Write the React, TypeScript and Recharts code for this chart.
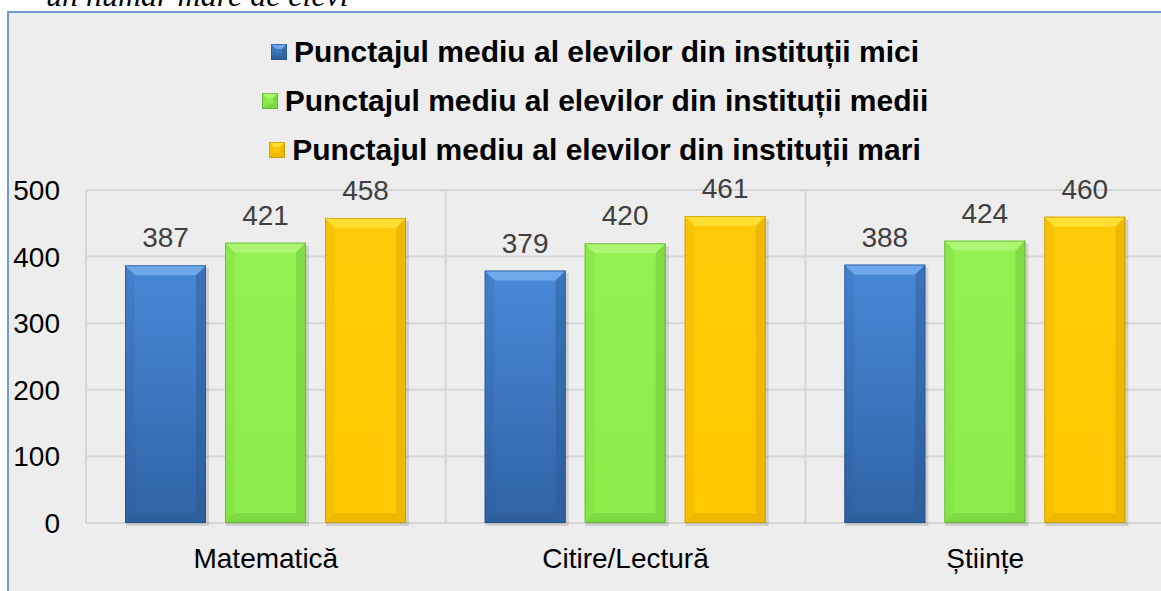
import React from 'react';
import { BarChart, Bar, XAxis, YAxis, CartesianGrid, Legend, LabelList } from 'recharts';

const categories = ['Matematică', 'Citire/Lectură', 'Științe'];
const smallSchools = [387, 379, 388];
const mediumSchools = [421, 420, 424];
const largeSchools = [458, 461, 460];
const yTicks = [0, 100, 200, 300, 400, 500];

const series = [
  {
    key: 'mici',
    name: 'Punctajul mediu al elevilor din instituții mici',
    values: smallSchools,
    pal: { top: '#4a89d9', bottom: '#2f63a5', light: '#78b0f0', dark: '#2a5892', edge: '#244d82' },
  },
  {
    key: 'medii',
    name: 'Punctajul mediu al elevilor din instituții medii',
    values: mediumSchools,
    pal: { top: '#93f152', bottom: '#8cec4a', light: '#b3f77c', dark: '#6cc238', edge: '#5c9f30' },
  },
  {
    key: 'mari',
    name: 'Punctajul mediu al elevilor din instituții mari',
    values: largeSchools,
    pal: { top: '#ffcb08', bottom: '#ffc800', light: '#ffe43c', dark: '#d9a300', edge: '#b88c00' },
  },
];

const chartData = categories.map((category, i) => {
  const row: Record<string, string | number> = { category };
  series.forEach((s) => {
    row[s.key] = s.values[i];
  });
  return row;
});

const FONT = '"Liberation Sans", Arial, sans-serif';

type Pal = { top: string; bottom: string; light: string; dark: string; edge: string };

// bevelled "3D" bar like the office chart style
const bevel = (x: number, y: number, w: number, h: number, pal: Pal, id: string, b: number, shadow = true) => {
  const bb = Math.min(b, w / 2, h / 2);
  return (
    <g>
      <defs>
        <linearGradient id={id} x1="0" y1="0" x2="0" y2="1">
          <stop offset="0%" stopColor={pal.top} />
          <stop offset="100%" stopColor={pal.bottom} />
        </linearGradient>
      </defs>
      {shadow && <rect x={x + 1} y={y + 3} width={w + 2} height={h} fill="rgba(0,0,0,0.12)" />}
      <rect x={x} y={y} width={w} height={h} fill={`url(#${id})`} />
      <polygon
        points={`${x},${y} ${x + w},${y} ${x + w - bb},${y + bb} ${x + bb},${y + bb}`}
        fill={pal.light}
        opacity={0.8}
      />
      <polygon
        points={`${x + w},${y} ${x + w},${y + h} ${x + w - bb},${y + h - bb} ${x + w - bb},${y + bb}`}
        fill={pal.dark}
        opacity={0.45}
      />
      <polygon
        points={`${x},${y + h} ${x + w},${y + h} ${x + w - bb},${y + h - bb} ${x + bb},${y + h - bb}`}
        fill={pal.dark}
        opacity={0.45}
      />
      <polygon
        points={`${x},${y} ${x + bb},${y + bb} ${x + bb},${y + h - bb} ${x},${y + h}`}
        fill={pal.dark}
        opacity={0.18}
      />
      <rect x={x + 0.5} y={y + 0.5} width={w - 1} height={h - 1} fill="none" stroke={pal.edge} strokeWidth={1} opacity={0.6} />
    </g>
  );
};

const makeShape = (pal: Pal, key: string) => (props: any) => {
  const { x, y, width, height, index } = props;
  if (!width || !height) return <g />;
  return bevel(x, y, width, height, pal, `g-${key}-${index}`, 10);
};

const LegendContent = () => (
  <div style={{ height: 160, paddingLeft: 25, boxSizing: 'border-box', position: 'relative', top: -3 }}>
    {series.map((s) => (
      <div
        key={s.key}
        style={{
          height: 49,
          display: 'flex',
          alignItems: 'center',
          justifyContent: 'center',
          fontFamily: FONT,
          fontWeight: 'bold',
          fontSize: 30,
          color: '#000',
        }}
      >
        <svg width={16} height={16} style={{ marginRight: 7 }}>
          {bevel(0, 0, 16, 16, s.pal, `lg-${s.key}`, 5, false)}
        </svg>
        <span>{s.name}</span>
      </div>
    ))}
  </div>
);

export default function App() {
  return (
    <div style={{ position: 'absolute', left: 0, top: 0, width: 1161, height: 591, overflow: 'hidden', background: '#fff' }}>
      <svg width={1161} height={12} style={{ position: 'absolute', left: 0, top: 0 }}>
        <text x={46} y={6} fontFamily='"Liberation Serif", "Times New Roman", serif' fontStyle="italic" fontSize={32} fill="#000">
          un număr mare de elevi
        </text>
      </svg>
      <div
        style={{
          position: 'absolute',
          left: 7,
          top: 11,
          width: 1160,
          height: 590,
          background: '#ededed',
          borderTop: '2px solid #6f9bd2',
          borderLeft: '2px solid #6f9bd2',
          boxSizing: 'border-box',
        }}
      />
      <div style={{ position: 'absolute', left: 0, top: 0 }}>
        <BarChart
          width={1170}
          height={591}
          data={chartData}
          margin={{ top: 30, right: 5, bottom: 0, left: 0 }}
          barSize={81}
          barGap={19}
        >
          <CartesianGrid
            stroke="#d6d6d6"
            strokeWidth={2}
            verticalCoordinatesGenerator={({ offset }: any) =>
              [0, 1, 2, 3].map((i) => offset.left + (i * offset.width) / categories.length)
            }
          />
          <XAxis
            dataKey="category"
            axisLine={false}
            tickLine={false}
            tickSize={0}
            tickMargin={25}
            height={68}
            interval={0}
            tick={{ fill: '#000', fontSize: 28, fontFamily: FONT }}
          />
          <YAxis
            domain={[0, 500]}
            ticks={yTicks}
            axisLine={false}
            tickLine={false}
            tickSize={0}
            tickMargin={26}
            width={86}
            tick={{ fill: '#000', fontSize: 28, fontFamily: FONT }}
          />
          <Legend verticalAlign="top" content={<LegendContent />} />
          {series.map((s) => (
            <Bar
              key={s.key}
              dataKey={s.key}
              name={s.name}
              fill={s.pal.top}
              isAnimationActive={false}
              shape={makeShape(s.pal, s.key)}
            >
              <LabelList dataKey={s.key} position="top" offset={18} fill="#404040" fontSize={28} fontFamily={FONT} />
            </Bar>
          ))}
        </BarChart>
      </div>
    </div>
  );
}
